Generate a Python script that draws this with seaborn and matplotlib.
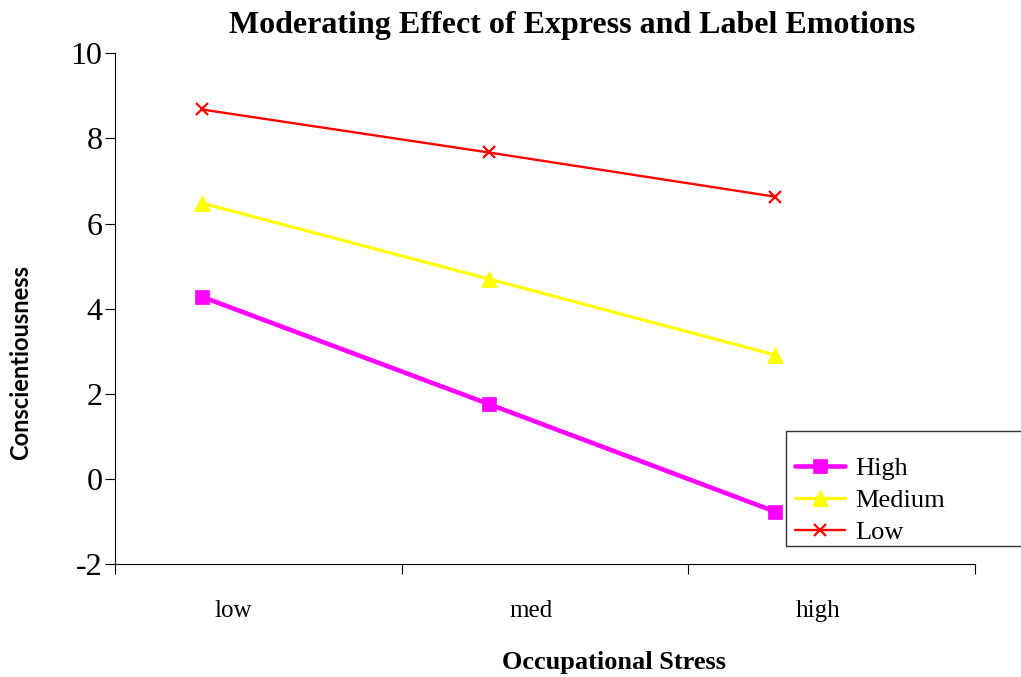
import matplotlib
matplotlib.use("Agg")
import matplotlib.pyplot as plt
import seaborn as sns
import pandas as pd
from matplotlib.patches import Rectangle
from matplotlib.lines import Line2D

# ---- data ----
stress_levels = ["low", "med", "high"]
series_names = ["High", "Medium", "Low"]
high_vals = [4.28, 1.76, -0.77]
medium_vals = [6.48, 4.70, 2.91]
low_vals = [8.68, 7.67, 6.63]
y_ticks = [-2, 0, 2, 4, 6, 8, 10]

title = "Moderating Effect of Express and Label Emotions"
x_label = "Occupational Stress"
y_label = "Conscientiousness"

colors = {"High": "#FF00FF", "Medium": "#FFFF00", "Low": "#FF0000"}
markers = {"High": "s", "Medium": "^", "Low": "x"}
lws = {"High": 3.3, "Medium": 2.3, "Low": 1.7}
msz = {"High": 10, "Medium": 11, "Low": 9}

df = pd.DataFrame({
    "stress": stress_levels * 3,
    "series": ["High"] * 3 + ["Medium"] * 3 + ["Low"] * 3,
    "value": high_vals + medium_vals + low_vals,
})

sns.set_theme(style="white")
plt.rcParams["font.family"] = ["Liberation Serif", "DejaVu Serif"]
plt.rcParams["text.color"] = "black"
plt.rcParams["xtick.color"] = "black"
plt.rcParams["ytick.color"] = "black"

fig = plt.figure(figsize=(10.21, 6.77), dpi=100)
ax = fig.add_axes([0.1126, 0.1669, 0.955 - 0.1126, 0.9213 - 0.1669])

for name in series_names:
    sub = df[df["series"] == name]
    sns.lineplot(data=sub, x="stress", y="value", ax=ax, color=colors[name],
                 linewidth=lws[name], marker=markers[name], markersize=msz[name],
                 markeredgewidth=1.6 if name == "Low" else 0.5,
                 markeredgecolor=colors[name], sort=False, legend=False)

ax.set_xlim(-0.303, 2.697)
ax.set_ylim(-2, 10)
ax.set_yticks(y_ticks)
ax.set_yticklabels([str(v) for v in y_ticks], fontsize=23)
ax.set_xticks([-0.303, 0.697, 1.697, 2.697])
ax.set_xticklabels([])
ax.set_xticks([0.11, 1.15, 2.15], minor=True)
ax.set_xticklabels(stress_levels, minor=True, fontsize=18)
ax.tick_params(axis="x", which="minor", length=0, pad=26)
ax.tick_params(axis="x", which="major", length=7, width=0.8, direction="out", color="black", bottom=True)
ax.tick_params(axis="y", length=7, width=0.8, direction="out", color="black", left=True, pad=2)
ax.set_xlabel("")
ax.set_ylabel("")
for s in ["top", "right"]:
    ax.spines[s].set_visible(False)
for s in ["left", "bottom"]:
    ax.spines[s].set_color("black")
    ax.spines[s].set_linewidth(0.8)
ax.grid(False)

fig.text(0.560, 0.963, title, ha="center", va="center", fontsize=23, fontweight="bold")
fig.text(0.601, 0.022, x_label, ha="center", va="center", fontsize=19, fontweight="bold")
fig.text(0.020, 0.465, y_label, ha="center", va="center", rotation=90, fontsize=17,
         fontweight="bold", family=["Lato", "DejaVu Sans"])

# legend
fig.patches.append(Rectangle((786 / 1021, 1 - 546 / 677), 0.5, (546 - 431) / 677,
                             transform=fig.transFigure, fill=False, edgecolor="#333333",
                             linewidth=1.0, clip_on=False))
handles = [Line2D([0], [0], color=colors[n], lw=lws[n], marker=markers[n], markersize=msz[n],
                  markeredgewidth=1.6 if n == "Low" else 0.5, markeredgecolor=colors[n])
           for n in series_names]
fig.legend(handles, series_names, loc="upper left", bbox_to_anchor=(790 / 1021, 1 - 451 / 677),
           frameon=False, fontsize=19, handlelength=1.9, handletextpad=0.37,
           labelspacing=0.33, borderpad=0.2, borderaxespad=0)

fig.savefig("out.png", dpi=100)
